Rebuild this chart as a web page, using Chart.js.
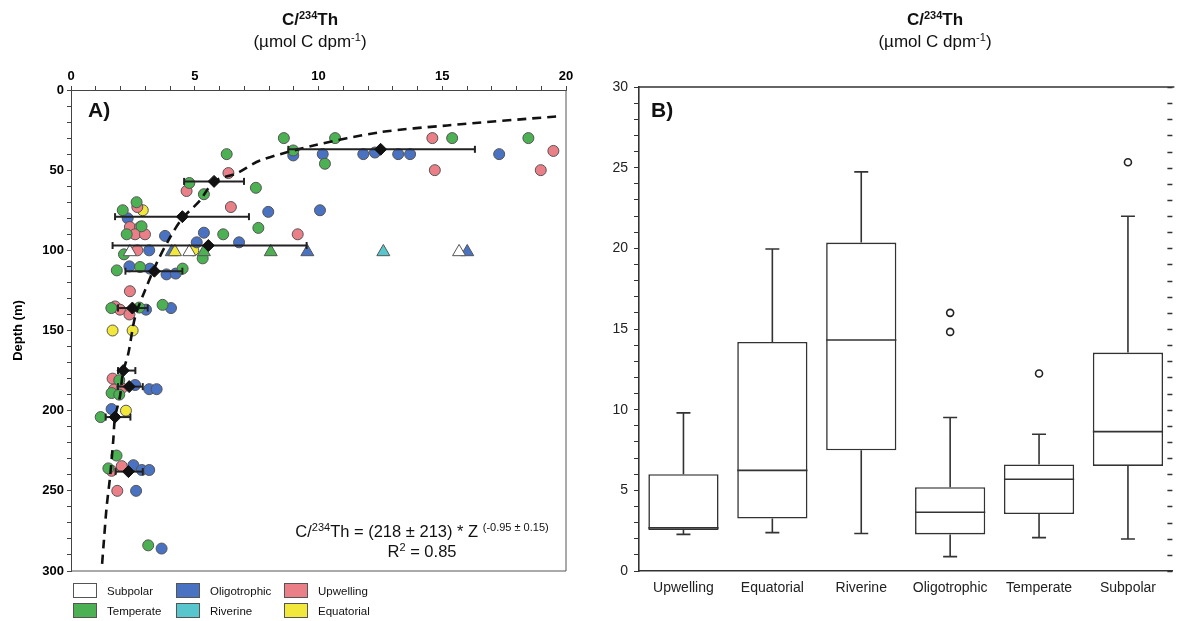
<!DOCTYPE html>
<html>
<head>
<meta charset="utf-8">
<script src="https://cdn.jsdelivr.net/npm/chart.js@4.4.1/dist/chart.umd.min.js"></script>
<style>
body { margin: 0; background: #fff; font-family: 'Liberation Sans', Arial, sans-serif; color: #111; }
#page { position: relative; width: 1178px; height: 621px; overflow: hidden; }
.holder { position: absolute; top: 0; height: 621px; }
.txt { position: absolute; white-space: nowrap; }
.ttl { width: 300px; text-align: center; font-size: 17px; line-height: 20px; }
sup { font-size: 11px; vertical-align: baseline; position: relative; top: -6px; }
.tag { font-weight: bold; font-size: 21px; }
.lg { position: absolute; width: 22px; height: 13px; border: 1px solid #555; }
.lgt { position: absolute; font-size: 11.5px; line-height: 14px; }
</style>
</head>
<body>
<div id="page">
  <div class="holder" style="left:0;width:590px"><canvas id="depthChart"></canvas></div>
  <div class="holder" style="left:590px;width:588px"><canvas id="boxChart"></canvas></div>

  <div class="txt ttl" style="left:160px;top:10px;font-weight:bold">C/<sup>234</sup>Th</div>
  <div class="txt ttl" style="left:160px;top:32px">(µmol C dpm<sup>-1</sup>)</div>
  <div class="txt ttl" style="left:785px;top:10px;font-weight:bold">C/<sup>234</sup>Th</div>
  <div class="txt ttl" style="left:785px;top:32px">(µmol C dpm<sup>-1</sup>)</div>

  <div class="txt tag" style="left:88px;top:98px">A)</div>
  <div class="txt tag" style="left:651px;top:98px">B)</div>

  <div class="txt" style="left:272px;width:300px;top:522px;text-align:center;font-size:16.5px;line-height:18px">
    C/<sup>234</sup>Th = (218 ± 213) * Z <sup>(-0.95 ± 0.15)</sup><br>R<sup>2</sup> = 0.85
  </div>

  <div id="legend"></div>
</div>

<script>
// region colours and legend order
var groups = ['Subpolar', 'Oligotrophic', 'Upwelling', 'Temperate', 'Riverine', 'Equatorial'];
var groupColors = ['#ffffff', '#4a72c2', '#eb7f88', '#4cb152', '#57c6cd', '#f2e83c'];

// panel A: individual C/Th values (x) against depth in m (y)
var temperateX = [8.6, 10.67, 15.4, 18.48, 8.98, 10.26, 6.29, 4.78, 5.37, 7.47, 2.65, 2.09, 2.85, 2.25, 6.15, 7.57, 2.14, 5.32, 1.85, 2.79, 4.51, 2.76, 3.7, 1.63, 1.95, 1.64, 1.95, 1.2, 1.84, 1.51, 3.12];
var temperateDepth = [30, 30, 30, 30, 37.7, 46, 40, 58, 65, 61, 70, 75, 85, 90, 90, 86, 102.5, 105, 112.5, 110.4, 111.4, 135.7, 134, 136, 181, 189, 190, 204, 228, 236, 284];

var oligoX = [8.98, 10.17, 11.81, 12.28, 13.22, 13.7, 17.3, 7.97, 10.06, 2.29, 3.8, 5.37, 5.08, 6.79, 3.16, 2.36, 3.19, 3.86, 4.23, 3.03, 4.04, 2.59, 3.16, 3.46, 1.64, 2.52, 2.86, 3.16, 2.63, 3.66];
var oligoDepth = [40.8, 40, 40, 39, 40, 40, 40, 76, 75, 80, 91, 89, 95, 95, 100, 110, 111.4, 115, 114.5, 137, 136, 184, 186.6, 186.6, 199, 234, 237, 237, 250, 286];

var upwellingX = [14.6, 19.49, 18.98, 14.7, 6.36, 4.67, 6.46, 2.68, 2.38, 2.79, 2.59, 2.99, 9.16, 2.68, 2.38, 1.78, 1.98, 2.36, 1.68, 1.74, 2.05, 1.64, 2.05, 1.87];
var upwellingDepth = [30, 38, 50, 50, 51.8, 63, 73, 73, 85.5, 85.5, 90, 90, 90, 100, 125.5, 135, 137, 140, 180, 186.8, 186, 237.5, 234.6, 250];

var equatorialX = [2.9, 4.94, 1.68, 2.49, 2.22];
var equatorialDepth = [75, 100, 150, 150, 200];

// triangles, all at ~100 m
var triDepth = 101;
var subpolarTriX = [2.38, 4.78, 15.68];
var temperateTriX = [5.37, 8.07];
var riverineTriX = [12.62];
var equatorialTriX = [4.2];
var oligoTriX = [4.07, 9.55, 16.01];

// binned means with spread
var meanDepth = [37, 57, 79, 97, 113, 136, 175, 185, 204, 238];
var meanX = [12.51, 5.78, 4.5, 5.55, 3.37, 2.48, 2.11, 2.35, 1.78, 2.32];
var meanLow = [8.78, 4.57, 1.78, 1.68, 2.2, 1.9, 1.9, 1.9, 1.4, 1.8];
var meanHigh = [16.32, 6.99, 7.19, 9.52, 4.5, 3.1, 2.6, 2.9, 2.4, 2.9];

// fitted power-law curve
var fitX = [19.6, 15.2, 12.5, 9.8, 7.64, 6.69, 5.78, 5.21, 4.5, 4.0, 3.46, 2.99, 2.59, 2.32, 2.09, 1.98, 1.78, 1.71, 1.58, 1.44, 1.33, 1.24];
var fitDepth = [16.5, 22.1, 26.3, 34.6, 44, 52, 57, 69, 80, 92, 108, 125, 141.5, 164, 177, 191, 204, 218, 241, 260, 281, 299];

// panel B: box plot summary per region
var boxCategories = ['Upwelling', 'Equatorial', 'Riverine', 'Oligotrophic', 'Temperate', 'Subpolar'];
var whiskerLow = [2.27, 2.38, 2.32, 0.89, 2.07, 1.98];
var q1 = [2.54, 3.25, 7.48, 2.27, 3.53, 6.51];
var median = [2.67, 6.24, 14.32, 3.64, 5.69, 8.64];
var q3 = [6.0, 14.2, 20.36, 5.19, 6.6, 13.54];
var whiskerHigh = [9.8, 19.96, 24.74, 9.51, 8.48, 21.99];
var outlierCats = ['Oligotrophic', 'Oligotrophic', 'Temperate', 'Subpolar'];
var outlierVals = [16.0, 14.82, 12.24, 25.34];

var FONT = "'Liberation Sans', Arial, sans-serif";

function pts(xs, ys) {
    return xs.map(function (x, i) { return { x: x, y: Array.isArray(ys) ? ys[i] : ys }; });
}
function colorOf(name) { return groupColors[groups.indexOf(name)]; }

// legend as html
(function () {
    var lg = document.getElementById('legend');
    var cols = [73, 176, 284];
    groups.forEach(function (g, i) {
        var left = cols[i % 3], top = i < 3 ? 583 : 603;
        var b = document.createElement('div');
        b.className = 'lg';
        b.style.left = left + 'px'; b.style.top = top + 'px'; b.style.background = groupColors[i];
        lg.appendChild(b);
        var t = document.createElement('div');
        t.className = 'lgt';
        t.style.left = (left + 34) + 'px'; t.style.top = (top + 1) + 'px';
        t.textContent = g;
        lg.appendChild(t);
    });
})();

var framePlugin = {
    id: 'frame',
    afterDraw: function (chart, args, opts) {
        var a = chart.chartArea, ctx = chart.ctx;
        ctx.save();
        ctx.strokeStyle = opts.color || '#444';
        ctx.lineWidth = opts.width || 1;
        ctx.beginPath();
        if (opts.right) { ctx.moveTo(a.right, a.top); ctx.lineTo(a.right, a.bottom); }
        if (opts.bottom) { ctx.moveTo(a.left, a.bottom); ctx.lineTo(a.right, a.bottom); }
        if (opts.top) { ctx.moveTo(a.left - 1, a.top); ctx.lineTo(a.right + 2, a.top); }
        if (opts.rightTicks) {
            var ys = chart.scales.y;
            ys.ticks.forEach(function (t) {
                var py = Math.round(ys.getPixelForValue(t.value)) + 0.5;
                ctx.moveTo(a.right - opts.rightTicks, py);
                ctx.lineTo(a.right, py);
            });
        }
        ctx.stroke();
        ctx.restore();
    }
};

var boxPlugin = {
    id: 'boxes',
    afterDatasetsDraw: function (chart) {
        var xs = chart.scales.x, ys = chart.scales.y, ctx = chart.ctx;
        var meta = chart.getDatasetMeta(0);
        ctx.save();
        ctx.strokeStyle = '#333';
        ctx.lineWidth = 1.6;
        ctx.beginPath();
        boxCategories.forEach(function (c, i) {
            var cx = xs.getPixelForValue(i);
            var half = meta.data[i].width / 2;
            var cap = 7;
            var m = ys.getPixelForValue(median[i]);
            ctx.moveTo(cx - half, m); ctx.lineTo(cx + half, m);
            var top = ys.getPixelForValue(q3[i]), hi = ys.getPixelForValue(whiskerHigh[i]);
            ctx.moveTo(cx, top); ctx.lineTo(cx, hi);
            ctx.moveTo(cx - cap, hi); ctx.lineTo(cx + cap, hi);
            var bot = ys.getPixelForValue(q1[i]), lo = ys.getPixelForValue(whiskerLow[i]);
            ctx.moveTo(cx, bot); ctx.lineTo(cx, lo);
            ctx.moveTo(cx - cap, lo); ctx.lineTo(cx + cap, lo);
        });
        ctx.stroke();
        ctx.restore();
    }
};

document.addEventListener('DOMContentLoaded', function () {

    var circle = { pointStyle: 'circle', pointRadius: 5.5, pointBorderColor: '#555', pointBorderWidth: 1, showLine: false };
    function circles(name, xs, ys) {
        return Object.assign({ data: pts(xs, ys), backgroundColor: colorOf(name), order: 5 }, circle);
    }
    function triangles(name, xs) {
        return { data: pts(xs, triDepth), pointStyle: 'triangle', pointRadius: 7.5, backgroundColor: colorOf(name),
                 pointBorderColor: '#555', pointBorderWidth: 1, showLine: false, order: 4 };
    }

    var datasets = [
        circles('Temperate', temperateX, temperateDepth),
        circles('Upwelling', upwellingX, upwellingDepth),
        circles('Oligotrophic', oligoX, oligoDepth),
        circles('Equatorial', equatorialX, equatorialDepth),
        triangles('Subpolar', subpolarTriX),
        triangles('Temperate', temperateTriX),
        triangles('Riverine', riverineTriX),
        triangles('Equatorial', equatorialTriX),
        triangles('Oligotrophic', oligoTriX),
        {
            data: pts(fitX, fitDepth), showLine: true, pointRadius: 0, borderColor: '#111',
            borderWidth: 2.6, borderDash: [9, 6], tension: 0.3, order: 2
        }
    ];
    meanDepth.forEach(function (d, i) {
        datasets.push({
            data: [{ x: meanLow[i], y: d }, { x: meanHigh[i], y: d }], showLine: true,
            borderColor: '#222', borderWidth: 2, pointStyle: 'line', rotation: 90, pointRadius: 3.5,
            pointBorderColor: '#222', pointBorderWidth: 2, order: 1
        });
    });
    datasets.push({
        data: pts(meanX, meanDepth), pointStyle: 'rectRot', pointRadius: 6, backgroundColor: '#111',
        pointBorderColor: '#111', showLine: false, order: 0
    });

    var depthCtx = document.getElementById('depthChart').getContext('2d');
    new Chart(depthCtx, {
        type: 'scatter',
        data: { datasets: datasets },
        plugins: [framePlugin],
        options: {
            responsive: true, maintainAspectRatio: false, animation: false,
            layout: { padding: { left: 0, right: 24, top: 60, bottom: 50 } },
            plugins: {
                legend: { display: false }, tooltip: { enabled: false },
                frame: { right: true, bottom: true, color: '#555', width: 1 }
            },
            scales: {
                x: {
                    type: 'linear', position: 'top', min: 0, max: 20,
                    afterFit: function (s) { s.height = 30; },
                    ticks: {
                        stepSize: 1, autoSkip: false, maxRotation: 0, padding: 2, color: '#000',
                        font: { family: FONT, size: 13, weight: 'bold' },
                        callback: function (v) { return v % 5 === 0 ? v : ''; }
                    },
                    grid: { drawOnChartArea: false, tickLength: 4, color: '#444' },
                    border: { color: '#444', width: 1 }
                },
                y: {
                    type: 'linear', reverse: true, min: 0, max: 300,
                    afterFit: function (s) { s.width = 71; },
                    title: { display: true, text: 'Depth (m)', color: '#000', padding: { top: 11, bottom: 0 },
                             font: { family: FONT, size: 13, weight: 'bold' } },
                    ticks: {
                        stepSize: 10, autoSkip: false, padding: 3, color: '#000',
                        font: { family: FONT, size: 13, weight: 'bold' },
                        callback: function (v) { return v % 50 === 0 ? v : ''; }
                    },
                    grid: { drawOnChartArea: false, tickLength: 4, color: '#444' },
                    border: { color: '#444', width: 1 }
                }
            }
        }
    });

    var boxCtx = document.getElementById('boxChart').getContext('2d');
    new Chart(boxCtx, {
        type: 'bar',
        data: {
            labels: boxCategories,
            datasets: [{
                data: boxCategories.map(function (c, i) { return [q1[i], q3[i]]; }),
                backgroundColor: '#fff', borderColor: '#333', borderWidth: 1.6, borderSkipped: false,
                barPercentage: 0.79, categoryPercentage: 1
            }, {
                type: 'line', showLine: false,
                data: outlierCats.map(function (c, i) { return { x: c, y: outlierVals[i] }; }),
                pointStyle: 'circle', pointRadius: 3.5, pointBackgroundColor: '#fff',
                pointBorderColor: '#222', pointBorderWidth: 1.6
            }]
        },
        plugins: [boxPlugin, framePlugin],
        options: {
            responsive: true, maintainAspectRatio: false, animation: false,
            layout: { padding: { left: 0, right: 1, top: 87, bottom: 0 } },
            plugins: {
                legend: { display: false }, tooltip: { enabled: false },
                frame: { top: true, rightTicks: 5, color: '#333', width: 1.4 }
            },
            scales: {
                x: {
                    offset: true,
                    afterFit: function (s) { s.height = 50; },
                    ticks: { color: '#222', padding: 9, font: { family: FONT, size: 14 } },
                    grid: { display: false, drawTicks: false },
                    border: { color: '#333', width: 1.6 }
                },
                y: {
                    min: 0, max: 30,
                    afterFit: function (s) { s.width = 49; },
                    ticks: {
                        stepSize: 1, autoSkip: false, padding: 6, color: '#222',
                        font: { family: FONT, size: 14 },
                        callback: function (v) { return v % 5 === 0 ? v : ''; }
                    },
                    grid: { drawOnChartArea: false, tickLength: 5, color: '#333' },
                    border: { color: '#333', width: 1.6 }
                }
            }
        }
    });
});
</script>
</body>
</html>
